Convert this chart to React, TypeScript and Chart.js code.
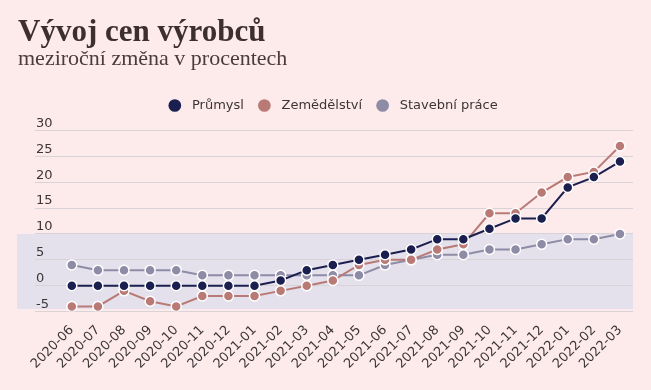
import React, { useEffect, useRef } from "react";
import { Chart, registerables } from "chart.js";

Chart.register(...registerables);

const LABELS = [
  "2020-06", "2020-07", "2020-08", "2020-09", "2020-10", "2020-11", "2020-12",
  "2021-01", "2021-02", "2021-03", "2021-04", "2021-05", "2021-06", "2021-07",
  "2021-08", "2021-09", "2021-10", "2021-11", "2021-12", "2022-01", "2022-02", "2022-03",
];
const PRUMYSL = [0, 0, 0, 0, 0, 0, 0, 0, 1, 3, 4, 5, 6, 7, 9, 9, 11, 13, 13, 19, 21, 24];
const ZEMEDELSTVI = [-4, -4, -1, -3, -4, -2, -2, -2, -1, 0, 1, 4, 5, 5, 7, 8, 14, 14, 18, 21, 22, 27];
const STAVEBNI = [4, 3, 3, 3, 3, 2, 2, 2, 2, 2, 2, 2, 4, 5, 6, 6, 7, 7, 8, 9, 9, 10];
const Y_TICKS = [-5, 0, 5, 10, 15, 20, 25, 30];
const BAND_FROM = -4.5;
const BAND_TO = 10;

const COLORS = {
  prumysl: "#1b1f4f",
  zemedelstvi: "#b97a76",
  stavebni: "#8e8ba6",
  band: "#e4e1ec",
  grid: "#d9d2d6",
  text: "#3b3536",
  bg: "#fdebec",
};

const FONT = "'DejaVu Sans', Verdana, sans-serif";

const bandPlugin = {
  id: "band",
  beforeDraw(chart: any) {
    const { ctx, chartArea, scales } = chart;
    const y = scales.y;
    const top = y.getPixelForValue(BAND_TO);
    const bottom = y.getPixelForValue(BAND_FROM);
    ctx.save();
    ctx.fillStyle = COLORS.band;
    ctx.fillRect(chartArea.left - 18, top, chartArea.right - chartArea.left + 18, bottom - top);
    ctx.restore();
  },
};

const legendSpacing = {
  id: "legendSpacing",
  beforeInit(chart: any) {
    const legend = chart.legend;
    if (!legend) return;
    const orig = legend.fit;
    legend.fit = function () {
      orig.call(this);
      this.height += 8.5;
    };
  },
};

function toPoints(arr: number[]) {
  return arr.map((v, i) => ({ x: i, y: v }));
}

function ds(label: string, data: number[], color: string) {
  return {
    label,
    data: toPoints(data),
    borderColor: color,
    backgroundColor: color,
    borderWidth: 2,
    pointRadius: 5,
    pointHoverRadius: 5,
    pointBackgroundColor: color,
    pointBorderColor: "#ffffff",
    pointBorderWidth: 1.5,
    tension: 0,
  };
}

export default function App() {
  const ref = useRef<HTMLCanvasElement>(null);

  useEffect(() => {
    document.body.style.background = COLORS.bg;
    const chart = new Chart(ref.current!, {
      type: "line",
      data: {
        datasets: [
          ds("Průmysl", PRUMYSL, COLORS.prumysl),
          ds("Zemědělství", ZEMEDELSTVI, COLORS.zemedelstvi),
          ds("Stavební práce", STAVEBNI, COLORS.stavebni),
        ],
      },
      plugins: [bandPlugin, legendSpacing],
      options: {
        animation: false,
        responsive: true,
        maintainAspectRatio: false,
        layout: { padding: { top: 77, left: 25, right: 10, bottom: 7 } },
        plugins: {
          tooltip: { enabled: false },
          legend: {
            position: "top",
            labels: {
              usePointStyle: true,
              pointStyle: "circle",
              boxWidth: 13,
              boxHeight: 9,
              padding: 14,
              color: COLORS.text,
              font: { family: FONT, size: 13 },
              generateLabels(chart: any) {
                const items = Chart.defaults.plugins.legend.labels.generateLabels(chart);
                return items.map((it: any) => ({
                  ...it,
                  text: " " + it.text,
                  strokeStyle: it.fillStyle,
                  lineWidth: 0,
                }));
              },
            },
          },
        },
        scales: {
          x: {
            type: "linear",
            min: -1.41,
            max: 21.5,
            grid: { display: false },
            border: { display: false },
            afterBuildTicks(scale: any) {
              scale.ticks = LABELS.map((_, i) => ({ value: i }));
            },
            ticks: {
              autoSkip: false,
              minRotation: 45,
              maxRotation: 45,
              color: COLORS.text,
              font: { family: FONT, size: 13 },
              callback: (v: any) => LABELS[v as number],
            },
          },
          y: {
            min: -5,
            max: 30,
            afterBuildTicks(scale: any) {
              scale.ticks = Y_TICKS.map((v) => ({ value: v }));
            },
            grid: { color: COLORS.grid, drawTicks: false, lineWidth: 1 },
            border: { display: false },
            ticks: {
              mirror: true,
              padding: 1,
              labelOffset: -7,
              color: COLORS.text,
              font: { family: FONT, size: 13 },
            },
          },
        },
      },
    });
    return () => chart.destroy();
  }, []);

  return (
    <div style={{ position: "relative", width: 635, height: 374 }}>
      <canvas ref={ref} />
      <div
        style={{
          position: "absolute",
          left: 10,
          top: 7,
          fontFamily: "'Liberation Serif', serif",
          fontWeight: 700,
          fontSize: 31,
          lineHeight: "31px",
          color: "#3d2f30",
          whiteSpace: "nowrap",
        }}
      >
        Vývoj cen výrobců
      </div>
      <div
        style={{
          position: "absolute",
          left: 10,
          top: 39,
          fontFamily: "'Liberation Serif', serif",
          fontSize: 22,
          lineHeight: "22px",
          color: "#4a3c3d",
          whiteSpace: "nowrap",
        }}
      >
        meziroční změna v procentech
      </div>
    </div>
  );
}
